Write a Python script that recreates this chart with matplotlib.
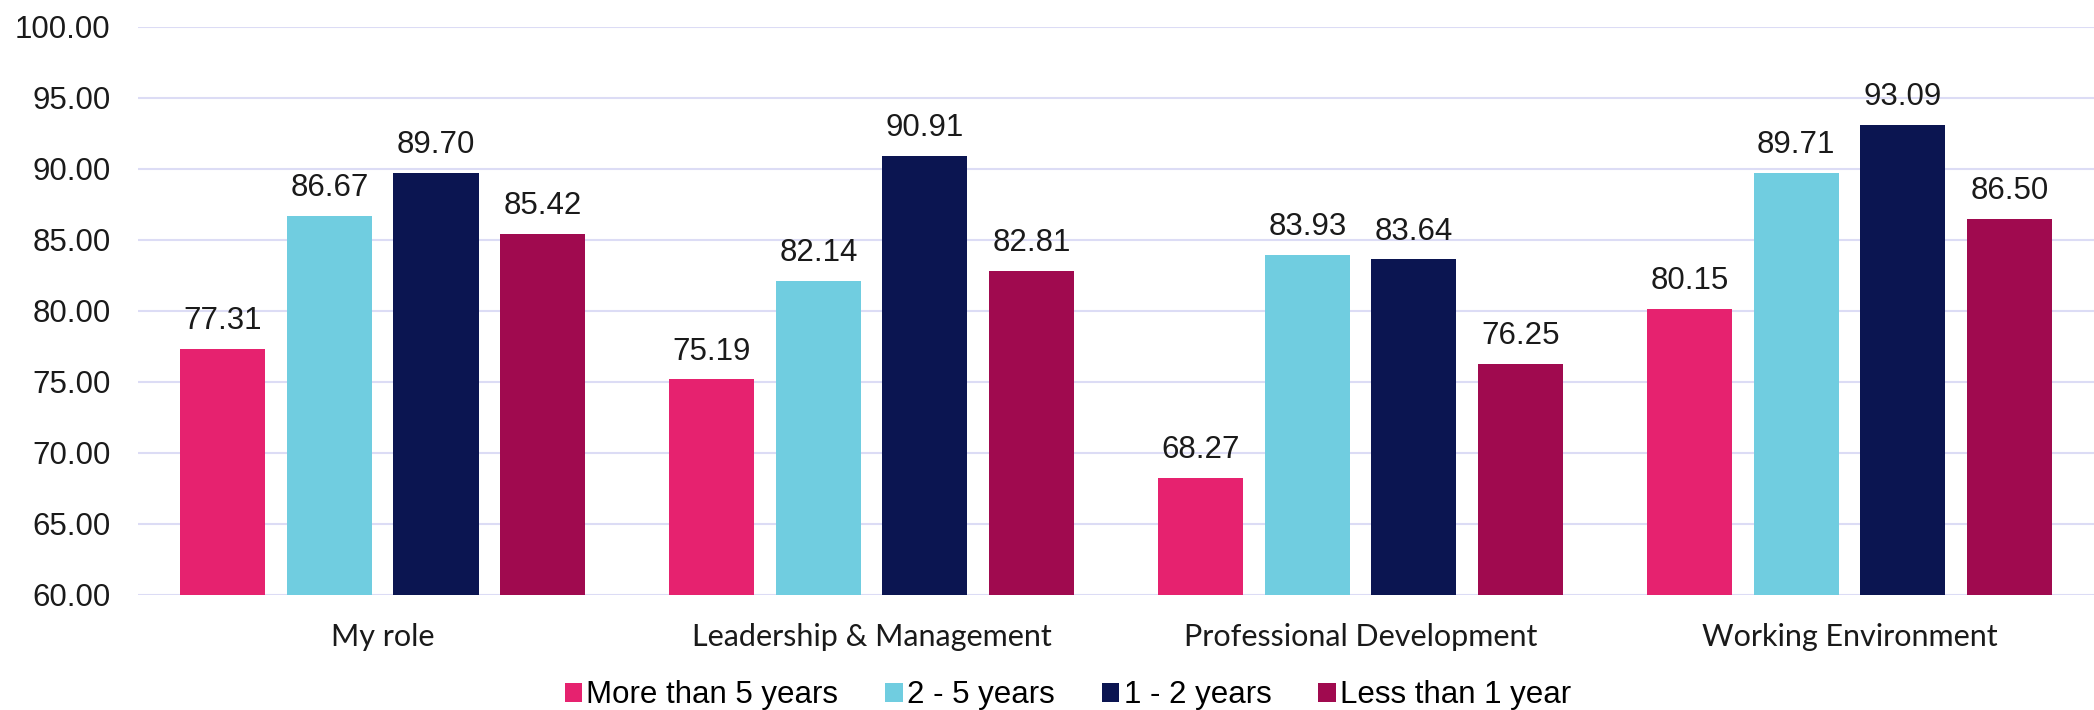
import matplotlib.pyplot as plt
import numpy as np

plt.rcParams['font.family'] = ['Liberation Sans', 'DejaVu Sans']

categories = ["My role", "Leadership & Management", "Professional Development", "Working Environment"]
series_names = ["More than 5 years", "2 - 5 years", "1 - 2 years", "Less than 1 year"]
more_than_5 = [77.31, 75.19, 68.27, 80.15]
two_to_5 = [86.67, 82.14, 83.93, 89.71]
one_to_2 = [89.70, 90.91, 83.64, 93.09]
less_than_1 = [85.42, 82.81, 76.25, 86.50]
colors = ["#E6226F", "#70CDE0", "#0B1551", "#A00A4F"]

series = [more_than_5, two_to_5, one_to_2, less_than_1]

fig = plt.figure(figsize=(20.94, 7.10), dpi=100)
ax = fig.add_axes([0.066, 0.162, 0.934, 0.80])

x = np.arange(len(categories))
width = 0.174
pitch = 0.218
for i, (vals, name, c) in enumerate(zip(series, series_names, colors)):
    pos = x + (i - 1.5) * pitch
    ax.bar(pos, [v - 60 for v in vals], width, bottom=60, color=c, label=name, zorder=3)
    for xp, v in zip(pos, vals):
        ax.text(xp, v + 0.9, f"{v:.2f}", ha="center", va="bottom", fontsize=22.5, color="#1a1a1a")

ax.set_ylim(60, 100)
ax.set_xlim(-0.5, 3.5)
ax.set_yticks(np.arange(60, 101, 5))
ax.set_yticklabels([f"{t:.2f}" for t in np.arange(60, 101, 5)])
ax.set_xticks(x)
ax.set_xticklabels(categories, family=["Lato", "DejaVu Sans"])
ax.yaxis.grid(True, color="#DCDCF5", linewidth=1.5, zorder=0)
ax.tick_params(axis="y", length=0, labelsize=22.5, pad=20, colors="#1a1a1a")
ax.tick_params(axis="x", length=0, labelsize=22, pad=20, colors="#1a1a1a")
for s in ax.spines.values():
    s.set_visible(False)

fig.legend(loc="lower center", bbox_to_anchor=(0.51, -0.04), ncol=4, frameon=False,
           fontsize=22.5, handlelength=0.55, handleheight=0.55, handletextpad=0.15, columnspacing=1.5)

fig.savefig("out.png", dpi=100)
